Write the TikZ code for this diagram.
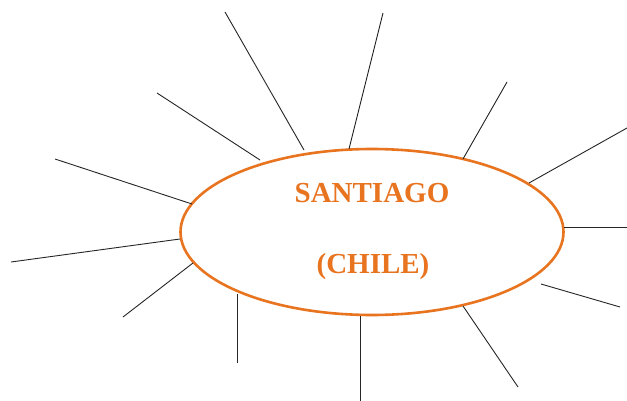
\documentclass[tikz,border=0pt]{standalone}
\usepackage{fontspec}
\setmainfont{Liberation Serif}
\usetikzlibrary{shapes.geometric}
\definecolor{chileorange}{RGB}{232,116,32}
\begin{document}
\begin{tikzpicture}[x=1pt,y=-1pt,
  ray/.style={draw=black!85, line width=0.9pt},
  ring/.style={ellipse, draw=chileorange, line width=2.6pt, inner sep=0pt, minimum width=383pt, minimum height=166pt},
  label/.style={text=chileorange, font=\bfseries\fontsize{29}{32}\selectfont, anchor=base}]
\useasboundingbox (0,0) rectangle (627,401);
\fill[white] (0,0) rectangle (627,401);
\node[ring] (city) at (372,232) {};
\node[label] (name) at (372,203) {SANTIAGO};
\node[label] (country) at (373,273) {(CHILE)};
% ray ends
\coordinate (a1) at (225,12);  \coordinate (b1) at (304,150);
\coordinate (a2) at (383,13);  \coordinate (b2) at (349,149);
\coordinate (a3) at (507,82);  \coordinate (b3) at (463,159);
\coordinate (a4) at (627,128); \coordinate (b4) at (529,183);
\coordinate (a5) at (627,227); \coordinate (b5) at (564,227);
\coordinate (a6) at (620,307); \coordinate (b6) at (541,284);
\coordinate (a7) at (518,387); \coordinate (b7) at (463,306);
\coordinate (a8) at (360,401); \coordinate (b8) at (360,316);
\coordinate (a9) at (237,363); \coordinate (b9) at (237,294);
\coordinate (a10) at (123,317); \coordinate (b10) at (193,263);
\coordinate (a11) at (11,262); \coordinate (b11) at (180,239);
\coordinate (a12) at (55,159); \coordinate (b12) at (192,204);
\coordinate (a13) at (157,93); \coordinate (b13) at (260,160);
\foreach \i in {1,...,13} { \draw[ray] (a\i) -- (b\i); }
\end{tikzpicture}
\end{document}
